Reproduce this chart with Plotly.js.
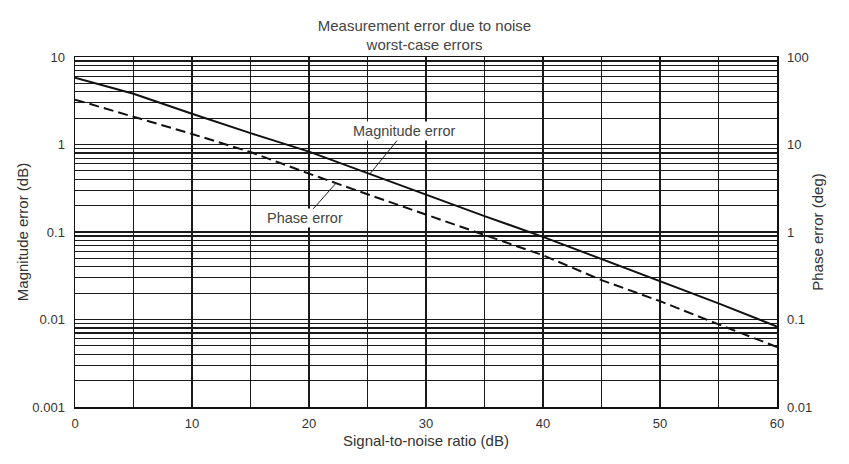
<!DOCTYPE html>
<html>
<head>
<meta charset="utf-8">
<script src="https://cdn.plot.ly/plotly-3.0.1.min.js"></script>
<style>html,body{margin:0;padding:0;background:#fff;}#chart{width:849px;height:464px;}</style>
</head>
<body>
<div id="chart"></div>
<script>
// Signal-to-noise ratio (dB)
const snr = [0, 5, 10, 15, 20, 25, 30, 35, 40, 45, 50, 55, 60];
// Magnitude error (dB), left axis
const magnitudeError = [5.8, 3.8, 2.25, 1.35, 0.83, 0.47, 0.265, 0.152, 0.088, 0.049, 0.0274, 0.0153, 0.0083];
// Phase error (deg), right axis
const phaseError = [32.6, 20.9, 13.2, 8.2, 4.65, 2.7, 1.58, 0.93, 0.542, 0.282, 0.162, 0.088, 0.0485];

const xTickVals = [0, 5, 10, 15, 20, 25, 30, 35, 40, 45, 50, 55, 60];
const xTickText = ['0', '', '10', '', '20', '', '30', '', '40', '', '50', '', '60'];
const leftMajor = [0.001, 0.01, 0.1, 1, 10];
const leftMajorText = ['0.001', '0.01', '0.1', '1', '10'];
const rightMajor = [0.01, 0.1, 1, 10, 100];
const rightMajorText = ['0.01', '0.1', '1', '10', '100'];
const multipliers = [1, 2, 3, 4, 5, 6, 7, 8, 9];

// log grid: every 1..9 multiple within each decade
function logTicks(major, labels) {
  const vals = [], text = [];
  for (let d = 0; d < major.length; d++) {
    if (d === major.length - 1) { vals.push(major[d]); text.push(labels[d]); break; }
    for (const m of multipliers) {
      vals.push(+(major[d] * m).toPrecision(3));
      text.push(m === 1 ? labels[d] : '');
    }
  }
  return {vals, text};
}
const lt = logTicks(leftMajor, leftMajorText);
const rt = logTicks(rightMajor, rightMajorText);

const font = {family: 'Liberation Sans, Arial, sans-serif', size: 13, color: '#333'};

const traces = [
  {x: snr, y: magnitudeError, type: 'scatter', mode: 'lines', yaxis: 'y',
   line: {color: '#111', width: 2}, hoverinfo: 'skip'},
  {x: snr, y: phaseError, type: 'scatter', mode: 'lines', yaxis: 'y2',
   line: {color: '#111', width: 2, dash: '10px,5px'}, hoverinfo: 'skip'}
];

const layout = {
  width: 849, height: 464,
  margin: {l: 75, r: 72, t: 57, b: 57},
  paper_bgcolor: '#fff', plot_bgcolor: '#fff',
  font: font,
  showlegend: false,
  title: {text: 'Measurement error due to noise<br>worst-case errors',
          x: 0.5, xanchor: 'center', y: 0.934, yanchor: 'middle', yref: 'container',
          font: {family: font.family, size: 15, color: '#444'}},
  xaxis: {range: [0, 60], tickvals: xTickVals, ticktext: xTickText,
          showgrid: true, gridcolor: '#1a1a1a', gridwidth: 1.1,
          showline: true, linecolor: '#111', linewidth: 1.5, mirror: true,
          zeroline: false, ticks: '', ticklabelstandoff: 4,
          title: {text: 'Signal-to-noise ratio (dB)', standoff: 5, font: {size: 15, color: '#333'}}},
  yaxis: {type: 'log', range: [-3, 1], tickvals: lt.vals, ticktext: lt.text,
          showgrid: true, gridcolor: '#1a1a1a', gridwidth: 1.1,
          showline: true, linecolor: '#111', linewidth: 1.5, mirror: true,
          zeroline: false, ticks: '', ticklabelstandoff: 6,
          title: {text: 'Magnitude error (dB)', standoff: 0, font: {size: 15, color: '#333'}}},
  yaxis2: {type: 'log', range: [-2, 2], overlaying: 'y', side: 'right',
           tickvals: rt.vals, ticktext: rt.text, showgrid: false,
           showline: false, zeroline: false, ticks: '', ticklabelstandoff: 9,
           title: {text: 'Phase error (deg)', standoff: 1, font: {size: 15, color: '#333'}}},
  annotations: [
    {x: 25.2, y: Math.log10(0.46), xref: 'x', yref: 'y', text: 'Magnitude error',
     showarrow: true, arrowhead: 0, arrowwidth: 1, arrowcolor: '#222', ax: 35, ay: -43,
     bgcolor: '#fff', borderpad: 1, standoff: 0, font: {size: 14.5, color: '#444'}},
    {x: 22.3, y: Math.log10(3.6), xref: 'x', yref: 'y2', text: 'Phase error',
     showarrow: true, arrowhead: 0, arrowwidth: 1, arrowcolor: '#222', ax: -31, ay: 35,
     bgcolor: '#fff', borderpad: 1, standoff: 0, font: {size: 14.5, color: '#444'}}
  ]
};

Plotly.newPlot('chart', traces, layout, {staticPlot: true, displayModeBar: false});
</script>
</body>
</html>
